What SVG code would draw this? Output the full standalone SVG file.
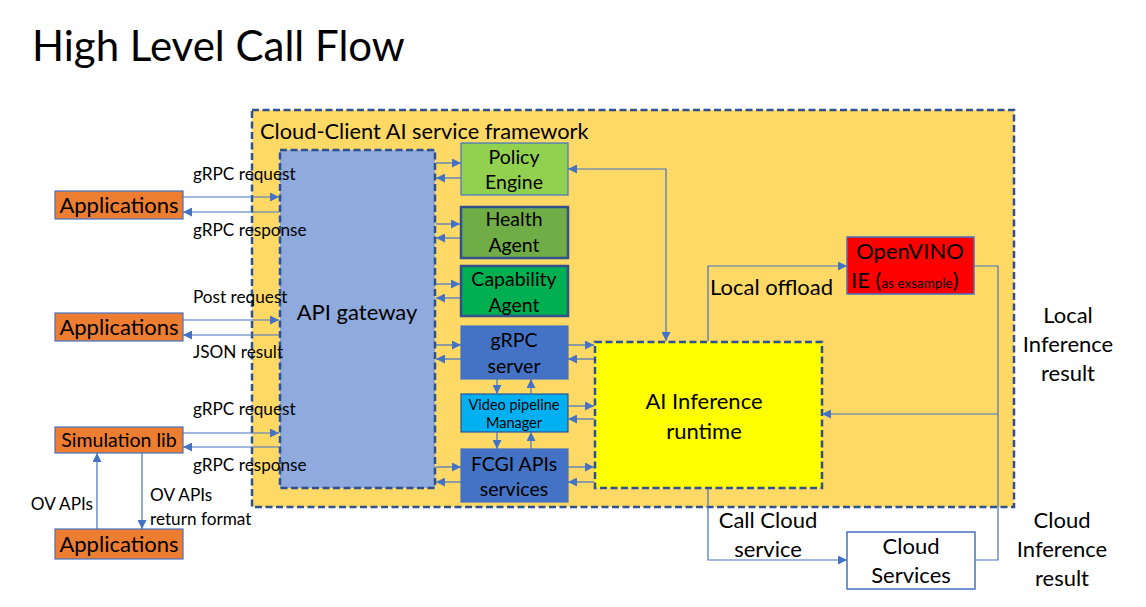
<svg xmlns="http://www.w3.org/2000/svg" width="1146" height="607" viewBox="0 0 1146 607">
<style>
text{font-family:Lato,"Open Sans",sans-serif;fill:#000}
.t20{font-size:22px}
.t16{font-size:17.2px}
.b{font-size:19.5px}
.c{text-anchor:middle}
.ln{fill:none;stroke:#4472C4;stroke-width:1.2}
.dash{stroke:#2F528F;stroke-width:2.5;stroke-dasharray:7 3.5}
</style>
<defs>
<marker id="ah" viewBox="0 0 10 10" refX="10" refY="5" markerWidth="9" markerHeight="9" markerUnits="userSpaceOnUse" orient="auto-start-reverse">
<path d="M0,0 L10,5 L0,10 z" fill="#4472C4"/>
</marker>
</defs>
<rect width="1146" height="607" fill="#fff"/>
<text x="32" y="61" style="font-size:42px">High Level Call Flow</text>

<g id="framework">
<rect x="252" y="110" width="762" height="397" fill="#FFD966" class="dash"/>
<text x="260" y="139" style="font-size:21.8px">Cloud-Client AI service framework</text>
</g>

<g id="api-gateway">
<rect x="280" y="150" width="155" height="338" fill="#8FAADC" class="dash"/>
<text x="357" y="320" class="t20 c">API gateway</text>
</g>

<g id="app1">
<rect x="55" y="191" width="128" height="28" fill="#ED7D31" stroke="#4472C4" stroke-width="1.2"/>
<text x="119" y="213" class="t20 c">Applications</text>
</g>
<g id="app2">
<rect x="55" y="313" width="128" height="28" fill="#ED7D31" stroke="#4472C4" stroke-width="1.2"/>
<text x="119" y="335" class="t20 c">Applications</text>
</g>
<g id="simlib">
<rect x="55" y="427" width="128" height="26" fill="#ED7D31" stroke="#4472C4" stroke-width="1.2"/>
<text x="119" y="447" class="c" style="font-size:19.5px">Simulation lib</text>
</g>
<g id="app3">
<rect x="55" y="529" width="128" height="30" fill="#ED7D31" stroke="#4472C4" stroke-width="1.2"/>
<text x="119" y="552" class="t20 c">Applications</text>
</g>

<g id="policy">
<rect x="461" y="143" width="107" height="52" fill="#92D050" stroke="#4472C4" stroke-width="1.2"/>
<text x="514" y="164" class="b c">Policy</text>
<text x="514" y="189" class="b c">Engine</text>
</g>
<g id="health">
<rect x="461" y="207" width="107" height="51" fill="#70AD47" stroke="#2F528F" stroke-width="2.5"/>
<text x="514" y="226" class="b c">Health</text>
<text x="514" y="252" class="b c">Agent</text>
</g>
<g id="capability">
<rect x="461" y="266" width="107" height="50" fill="#00B050" stroke="#2F528F" stroke-width="2.5"/>
<text x="514" y="286" class="b c">Capability</text>
<text x="514" y="312" class="b c">Agent</text>
</g>
<g id="grpc-server">
<rect x="461" y="326" width="107" height="53" fill="#4472C4" stroke="#4472C4" stroke-width="1.2"/>
<text x="514" y="347" class="b c">gRPC</text>
<text x="514" y="373" class="b c">server</text>
</g>
<g id="video">
<rect x="461" y="394" width="107" height="38" fill="#00B0F0" stroke="#2F528F" stroke-width="1.2"/>
<text x="514" y="410" class="c" style="font-size:14.5px">Video pipeline</text>
<text x="514" y="428" class="c" style="font-size:14.5px">Manager</text>
</g>
<g id="fcgi">
<rect x="461" y="449" width="107" height="53" fill="#4472C4" stroke="#4472C4" stroke-width="1.2"/>
<text x="514" y="471" class="b c">FCGI APIs</text>
<text x="514" y="496" class="b c">services</text>
</g>

<g id="ai-runtime">
<rect x="595" y="342" width="227" height="146" fill="#FFFF00" class="dash"/>
<text x="704" y="409" class="t20 c">AI Inference</text>
<text x="704" y="439" class="t20 c">runtime</text>
</g>

<g id="openvino">
<rect x="847" y="237" width="127" height="57" fill="#FF0000" stroke="#4472C4" stroke-width="1.5"/>
<text x="910" y="259" class="t20 c">OpenVINO</text>
<text x="851" y="288" class="t20">IE (<tspan style="font-size:13.5px">as exsample</tspan>)</text>
</g>

<g id="cloud-services">
<rect x="847" y="532" width="128" height="57" fill="#fff" stroke="#4472C4" stroke-width="1.5"/>
<text x="911" y="554" class="t20 c">Cloud</text>
<text x="911" y="583" class="t20 c">Services</text>
</g>

<g id="connectors" class="ln">
<path class="ln" d="M183,197 H279" marker-end="url(#ah)"/>
<path class="ln" d="M279,212 H183" marker-end="url(#ah)"/>
<path class="ln" d="M183,320 H279" marker-end="url(#ah)"/>
<path class="ln" d="M279,335 H183" marker-end="url(#ah)"/>
<path class="ln" d="M183,433 H279" marker-end="url(#ah)"/>
<path class="ln" d="M279,447 H183" marker-end="url(#ah)"/>
<path class="ln" d="M97,529 V453" marker-end="url(#ah)"/>
<path class="ln" d="M142,453 V529" marker-end="url(#ah)"/>

<path class="ln" d="M436,163 H461" marker-end="url(#ah)"/>
<path class="ln" d="M461,178 H436" marker-end="url(#ah)"/>
<path class="ln" d="M436,224 H460" marker-end="url(#ah)"/>
<path class="ln" d="M460,238 H436" marker-end="url(#ah)"/>
<path class="ln" d="M436,284 H460" marker-end="url(#ah)"/>
<path class="ln" d="M460,298 H436" marker-end="url(#ah)"/>
<path class="ln" d="M436,345 H461" marker-end="url(#ah)"/>
<path class="ln" d="M461,359 H436" marker-end="url(#ah)"/>
<path class="ln" d="M436,467 H461" marker-end="url(#ah)"/>
<path class="ln" d="M461,482 H436" marker-end="url(#ah)"/>

<path class="ln" d="M568,345 H594" marker-end="url(#ah)"/>
<path class="ln" d="M594,359 H568" marker-end="url(#ah)"/>
<path class="ln" d="M568,406 H594" marker-end="url(#ah)"/>
<path class="ln" d="M594,419 H568" marker-end="url(#ah)"/>
<path class="ln" d="M568,467 H594" marker-end="url(#ah)"/>
<path class="ln" d="M594,482 H568" marker-end="url(#ah)"/>

<path class="ln" d="M497,379 V394" marker-end="url(#ah)"/>
<path class="ln" d="M531,394 V379" marker-end="url(#ah)"/>
<path class="ln" d="M497,432 V449" marker-end="url(#ah)"/>
<path class="ln" d="M531,449 V432" marker-end="url(#ah)"/>

<path class="ln" d="M568,169 H666 V341" marker-start="url(#ah)" marker-end="url(#ah)"/>
<path class="ln" d="M708,341 V266 H847" marker-end="url(#ah)"/>
<path class="ln" d="M974,266 H998 V560 H975"/>
<path class="ln" d="M998,414 H822" marker-end="url(#ah)"/>
<path class="ln" d="M708,489 V560 H847" marker-end="url(#ah)"/>
</g>

<g id="labels">
<text x="193" y="180" class="t16">gRPC request</text>
<text x="193" y="236" class="t16">gRPC response</text>
<text x="193" y="303" class="t16">Post request</text>
<text x="193" y="358" class="t16">JSON result</text>
<text x="193" y="415" class="t16">gRPC request</text>
<text x="193" y="471" class="t16">gRPC response</text>
<text x="93" y="510" class="t16" text-anchor="end">OV APIs</text>
<text x="150" y="501" class="t16">OV APIs</text>
<text x="150" y="525" class="t16">return format</text>
<text x="710" y="295" class="t20">Local offload</text>
<text x="768" y="528" class="t20 c">Call Cloud</text>
<text x="768" y="557" class="t20 c">service</text>
<text x="1068" y="323" class="t20 c">Local</text>
<text x="1068" y="352" class="t20 c">Inference</text>
<text x="1068" y="381" class="t20 c">result</text>
<text x="1062" y="528" class="t20 c">Cloud</text>
<text x="1062" y="557" class="t20 c">Inference</text>
<text x="1062" y="586" class="t20 c">result</text>
</g>
</svg>
